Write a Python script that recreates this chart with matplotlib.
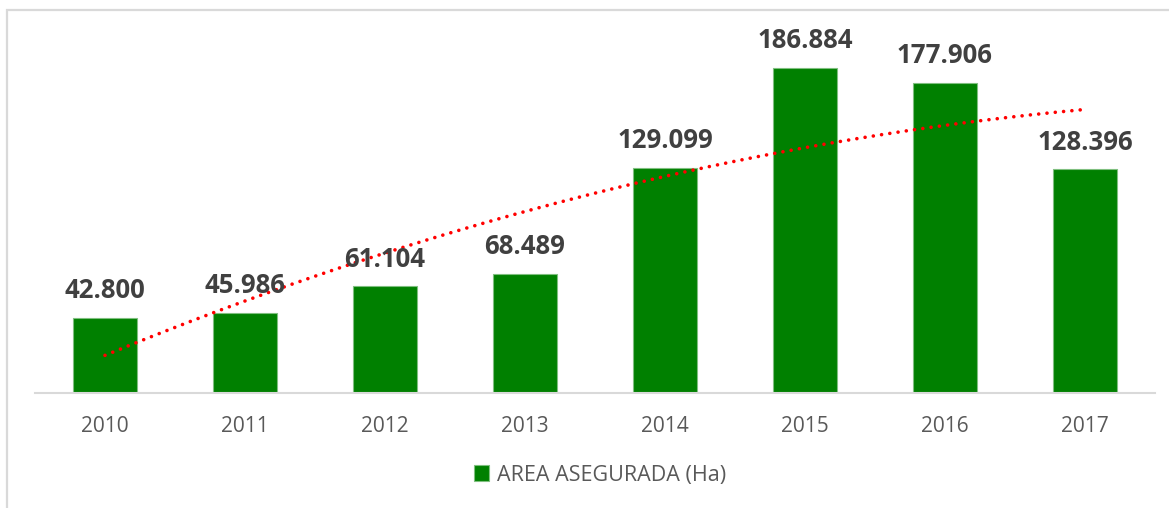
import numpy as np
import matplotlib
matplotlib.use("Agg")
import matplotlib.pyplot as plt
from matplotlib.patches import Rectangle

years = ["2010", "2011", "2012", "2013", "2014", "2015", "2016", "2017"]
area = [42800, 45986, 61104, 68489, 129099, 186884, 177906, 128396]
series_name = "AREA ASEGURADA (Ha)"

plt.rcParams['font.family'] = ['Open Sans', 'DejaVu Sans']

W, H = 1169, 508
fig = plt.figure(figsize=(W / 100, H / 100), dpi=100)

# outer chart border (light gray)
fig.patches.append(Rectangle((6.5 / W, -0.1), 1.2, 1 - 10.5 / H + 0.1,
                             transform=fig.transFigure, fill=False,
                             edgecolor='#D9D9D9', linewidth=1.6, zorder=0))

left, right = 35 / W, 1155 / W
bottom, top = 1 - 392.7 / H, 1 - 44.9 / H
ax = fig.add_axes([left, bottom, right - left, top - bottom])

x = np.arange(len(years))
bars = ax.bar(x, area, width=0.452, color='#008000', edgecolor='#7FBF7F',
              linewidth=0.8, label=series_name, zorder=2)

# polynomial (order 2) trendline, as in the source
coef = np.polyfit(x, area, 2)
xt = np.linspace(0, len(years) - 1, 200)
ax.plot(xt, np.polyval(coef, xt), color='#FF0000', linewidth=2.6,
        linestyle=(0, (0.01, 2.3)), dash_capstyle='round', zorder=3)

for xi, v in zip(x, area):
    lab = f"{v:,}".replace(",", ".")
    ax.annotate(lab, (xi, v), xytext=(0, 10), textcoords='offset points',
                ha='center', va='bottom', fontsize=18.5, fontweight='bold',
                color='#404040', zorder=4)

ax.set_xlim(-0.5, len(years) - 0.5)
ax.set_ylim(0, 200000)
ax.set_xticks(x)
ax.set_xticklabels(years, fontsize=15, color='#595959')
ax.tick_params(axis='x', length=0, pad=17)
ax.set_yticks([])
for s in ['top', 'right', 'left']:
    ax.spines[s].set_visible(False)
ax.spines['bottom'].set_color('#D9D9D9')
ax.spines['bottom'].set_linewidth(1.5)
ax.patch.set_alpha(0)

leg = fig.legend(handles=[bars], labels=[series_name], loc='center',
                 bbox_to_anchor=(600 / W, 1 - 475 / H), frameon=False,
                 fontsize=15.5, handlelength=0.7, handleheight=0.7,
                 handletextpad=0.35)
for t in leg.get_texts():
    t.set_color('#595959')

fig.savefig("out.png", dpi=100, facecolor='white')
